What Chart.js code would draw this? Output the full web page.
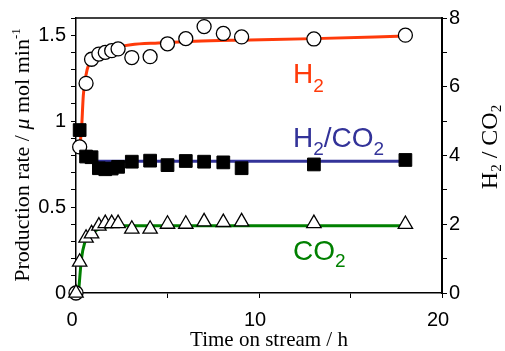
<!DOCTYPE html>
<html><head><meta charset="utf-8">
<script src="https://cdn.jsdelivr.net/npm/chart.js@4/dist/chart.umd.min.js"></script>
<style>html,body{margin:0;padding:0;background:#fff;}#wrap{width:505px;height:351px;}</style>
</head><body><div id="wrap"><canvas id="c" width="505" height="351"></canvas></div>
<script>
// ---- measured points (time on stream / h) ----
const timeH = [0, 0.2, 0.55, 0.85, 1.25, 1.6, 1.95, 2.3, 3.05, 4.05, 5.0, 6.0, 7.0, 8.05, 9.05, 13.0, 18.0];
const h2Rate = [0, 0.85, 1.22, 1.36, 1.39, 1.40, 1.41, 1.42, 1.37, 1.375, 1.45, 1.48, 1.55, 1.51, 1.49, 1.478, 1.50];
const co2Rate = [0, 0.18, 0.32, 0.345, 0.39, 0.405, 0.405, 0.405, 0.372, 0.372, 0.401, 0.401, 0.415, 0.411, 0.415, 0.405, 0.40];
const ratio = [null, 4.74, 3.97, 3.95, 3.63, 3.60, 3.62, 3.67, 3.82, 3.85, 3.72, 3.84, 3.82, 3.80, 3.63, 3.74, 3.87];
// ---- guide curves ----
const h2FitT = [0.2, 0.3, 0.4, 0.55, 0.7, 0.9, 1.2, 1.6, 2.2, 3, 4.5, 6.5, 9.5, 13, 18];
const h2FitV = [0.85, 0.95, 1.15, 1.27, 1.33, 1.36, 1.39, 1.41, 1.43, 1.445, 1.455, 1.465, 1.472, 1.48, 1.495];
const co2FitT = [0.16, 0.3, 0.47, 0.7, 0.95, 1.3, 1.8, 2.5, 18];
const co2FitV = [0.03, 0.2, 0.29, 0.33, 0.355, 0.375, 0.387, 0.392, 0.392];
const ratioFitT = [0.9, 18];
const ratioFitV = [3.83, 3.83];
// ---- ticks ----
const xTickLabels = [0, 10, 20];
const yTickLabels = [0, 0.5, 1, 1.5];
const y2TickLabels = [0, 2, 4, 6, 8];

const RED = '#ff3a0a', BLUE = '#333399', GREEN = '#008000';
const pts = (xs, ys) => xs.map((x, i) => ({x, y: ys[i]}));

function drawRich(ctx, segs, x, y, align) {
  let w = 0;
  segs.forEach(s => { ctx.font = s.f; s.w = ctx.measureText(s.t).width; w += s.w; });
  let cx = align === 'center' ? x - w / 2 : x;
  segs.forEach(s => { ctx.font = s.f; ctx.fillText(s.t, cx, y + (s.dy || 0)); cx += s.w; });
}

const deco = {
  id: 'deco',
  beforeDatasetsDraw(chart) {
    const {ctx, chartArea: a} = chart;
    ctx.save();
    ctx.strokeStyle = '#000'; ctx.lineWidth = 1.5;
    ctx.beginPath(); ctx.moveTo(a.left, a.top); ctx.lineTo(a.right, a.top); ctx.stroke();
    ctx.restore();
  },
  afterDraw(chart) {
    const {ctx, scales} = chart;
    const X = v => scales.x.getPixelForValue(v);
    const Y = v => scales.y.getPixelForValue(v);
    ctx.save();
    ctx.textBaseline = 'alphabetic';
    const big = '28px "Liberation Sans"', sub = '19px "Liberation Sans"';
    ctx.fillStyle = RED;
    drawRich(ctx, [{t:'H', f:big}, {t:'2', f:sub, dy:9}], X(11.86), Y(1.222));
    ctx.fillStyle = BLUE;
    drawRich(ctx, [{t:'H', f:big}, {t:'2', f:sub, dy:8}, {t:'/CO', f:big}, {t:'2', f:sub, dy:8}], X(11.86), Y(0.849));
    ctx.fillStyle = GREEN;
    drawRich(ctx, [{t:'CO', f:big}, {t:'2', f:sub, dy:7}], X(11.86), Y(0.192));
    // axis titles
    ctx.fillStyle = '#000';
    drawRich(ctx, [{t:'Time on stream / h', f:'21px "Liberation Serif"'}], 269, 346, 'center');
    ctx.save();
    ctx.translate(29, 155); ctx.rotate(-Math.PI / 2);
    drawRich(ctx, [
      {t:'Production rate / ', f:'22px "Liberation Serif"'},
      {t:'\u03bc', f:'italic 22px "Liberation Serif"'},
      {t:' mol min', f:'22px "Liberation Serif"'},
      {t:'-1', f:'13px "Liberation Serif"', dy:-9}
    ], 0, 0, 'center');
    ctx.restore();
    ctx.save();
    ctx.translate(497, 147); ctx.rotate(-Math.PI / 2);
    drawRich(ctx, [
      {t:'H', f:'24px "Liberation Serif"'},
      {t:'2', f:'15px "Liberation Serif"', dy:4},
      {t:' / CO', f:'24px "Liberation Serif"'},
      {t:'2', f:'15px "Liberation Serif"', dy:4}
    ], 0, 0, 'center');
    ctx.restore();
    ctx.restore();
  }
};

const tickFont = {family: 'Liberation Sans', size: 20};
const gridOpt = {drawOnChartArea: false, drawTicks: true, tickLength: 5, color: '#000', lineWidth: 1};
const near = (v, list) => list.find(l => Math.abs(l - v) < 1e-6);

new Chart(document.getElementById('c'), {
  type: 'scatter',
  data: {
    datasets: [
      {data: pts(timeH, co2Rate).filter(p => p.y !== null), yAxisID: 'y', order: 1, clip: false,
       pointStyle: 'triangle', pointRadius: 8.3, backgroundColor: '#fff', borderColor: '#000', borderWidth: 1.3, showLine: false},
      {data: pts(timeH, ratio).filter(p => p.y !== null), yAxisID: 'y2', order: 2, clip: false,
       pointStyle: 'rect', pointRadius: 9, backgroundColor: '#000', borderColor: '#000', borderWidth: 1, showLine: false},
      {data: pts(timeH, h2Rate), yAxisID: 'y', order: 3, clip: false,
       pointStyle: 'circle', pointRadius: 7, backgroundColor: '#fff', borderColor: '#000', borderWidth: 1.3, showLine: false},
      {data: pts(ratioFitT, ratioFitV), yAxisID: 'y2', order: 10, showLine: true, pointRadius: 0,
       borderColor: BLUE, borderWidth: 3},
      {data: pts(co2FitT, co2FitV), yAxisID: 'y', order: 11, showLine: true, pointRadius: 0,
       borderColor: GREEN, borderWidth: 3, cubicInterpolationMode: 'monotone'},
      {data: pts(h2FitT, h2FitV), yAxisID: 'y', order: 12, showLine: true, pointRadius: 0,
       borderColor: RED, borderWidth: 3, cubicInterpolationMode: 'monotone'}
    ]
  },
  options: {
    responsive: false, animation: false, devicePixelRatio: 1,
    layout: {padding: {top: 18, left: 0, right: 0, bottom: 0}},
    plugins: {legend: {display: false}, tooltip: {enabled: false}},
    scales: {
      x: {type: 'linear', position: 'bottom', min: 0, max: 20,
          ticks: {stepSize: 5, autoSkip: false, font: tickFont, color: '#000', padding: 10, labelOffset: -4, maxRotation: 0,
                  callback: v => (near(v, xTickLabels) !== undefined ? String(v) : '')},
          grid: gridOpt, border: {color: '#000', width: 1.5},
          afterFit: s => { s.height = 58; }},
      y: {type: 'linear', position: 'left', min: 0, max: 1.6,
          ticks: {stepSize: 0.1, autoSkip: false, font: tickFont, color: '#000', padding: 5,
                  callback: v => { const m = near(v, yTickLabels); return m !== undefined ? String(m) : ''; }},
          grid: gridOpt, border: {color: '#000', width: 1.5},
          afterFit: s => { s.width = 76; }},
      y2: {type: 'linear', position: 'right', min: 0, max: 8,
          ticks: {stepSize: 1, autoSkip: false, font: tickFont, color: '#000', padding: 2,
                  callback: v => { const m = near(v, y2TickLabels); return m !== undefined ? String(m) : ''; }},
          grid: gridOpt, border: {color: '#000', width: 2},
          afterFit: s => { s.width = 63; }}
    }
  },
  plugins: [deco]
});
</script>
</body></html>
